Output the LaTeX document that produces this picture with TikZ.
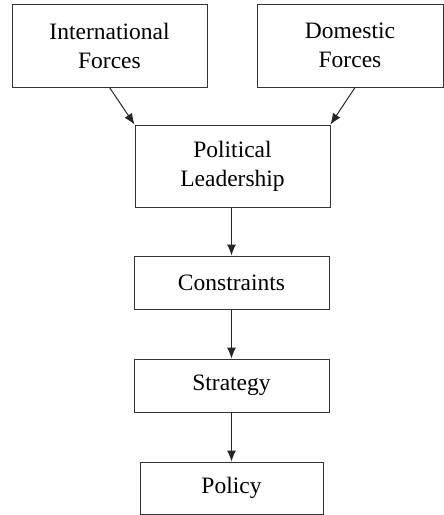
\documentclass[tikz,border=0pt]{standalone}
\usepackage{fontspec}
\setmainfont{Liberation Serif}
\usepackage{tikz}
\usetikzlibrary{arrows.meta}

\begin{document}
\begin{tikzpicture}[x=1pt, y=-1pt,
  box/.style={draw=black!80, line width=1pt, align=center, inner sep=0pt,
    font=\fontsize{23.5}{29}\selectfont},
  flow/.style={draw=black!85, line width=1pt, -{Latex[length=11pt,width=9pt]}}]
  \useasboundingbox (0,0) rectangle (444,515);

  % Forces on top
  \node[box, minimum width=195pt, minimum height=83pt] (intl) at (109.5,45.5) {International\\Forces};
  \node[box, minimum width=186pt, minimum height=83pt] (dom) at (350,45.5) {Domestic\\Forces};

  % Chain down the middle
  \node[box, minimum width=195pt, minimum height=82pt] (lead) at (232.5,166) {Political\\Leadership};
  \node[box, minimum width=195pt, minimum height=53pt] (cons) at (231.5,282.5) {Constraints};
  \node[box, minimum width=195pt, minimum height=53pt] (strat) at (231.5,385.5) {Strategy};
  \node[box, minimum width=183pt, minimum height=52pt] (pol) at (231.5,488) {Policy};

  % Arrows
  \draw[flow] (intl.south) -- (lead.north west);
  \draw[flow] ([xshift=5pt]dom.south) -- (lead.north east);
  \draw[flow] (lead.south -| cons.north) -- (cons.north);
  \draw[flow] (cons) -- (strat);
  \draw[flow] (strat) -- (pol);
\end{tikzpicture}
\end{document}
